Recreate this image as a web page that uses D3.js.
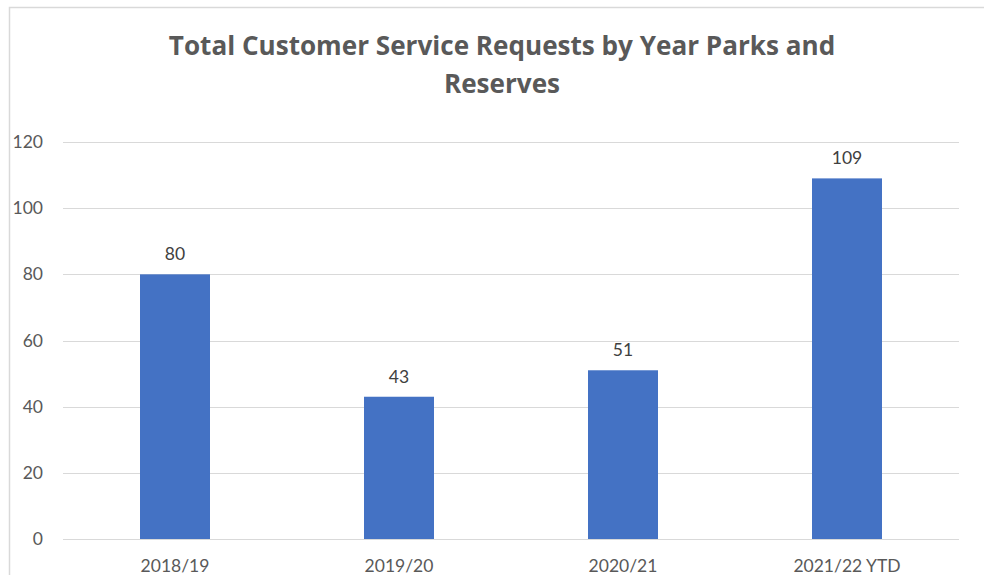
<!DOCTYPE html>
<html>
<head>
<meta charset="utf-8">
<script src="https://cdn.jsdelivr.net/npm/d3@7"></script>
<style>
  html, body { margin: 0; padding: 0; background: #fff; }
  svg { display: block; font-family: Lato, "Open Sans", sans-serif; }
</style>
</head>
<body>
<svg id="chart" width="984" height="575"></svg>
<script>
// Customer service requests for parks and reserves, per financial year
const categories = ["2018/19", "2019/20", "2020/21", "2021/22 YTD"];
const requests = [80, 43, 51, 109];
const yTicks = [0, 20, 40, 60, 80, 100, 120];
const titleLines = ["Total Customer Service Requests by Year Parks and", "Reserves"];

const svg = d3.select("#chart");
const W = 984, H = 575;
const plot = { left: 63, right: 959, top: 142, bottom: 539 };
const labelFont = "Lato, 'Open Sans', sans-serif";

// chart frame (top and left edges visible)
svg.append("path")
  .attr("d", `M9.5,${H} V7.5 H${W}`)
  .attr("fill", "none")
  .attr("stroke", "#d9d9d9")
  .attr("stroke-width", 1.5);

// title
svg.append("g").selectAll("text")
  .data(titleLines)
  .join("text")
  .attr("x", 502)
  .attr("y", (d, i) => 55 + i * 38)
  .attr("text-anchor", "middle")
  .attr("font-family", "'Open Sans', Lato, sans-serif")
  .attr("font-size", 26.1)
  .attr("font-weight", 700)
  .attr("fill", "#595959")
  .text(d => d);

const x = d3.scaleBand()
  .domain(categories)
  .range([plot.left, plot.right])
  .padding(0);

const y = d3.scaleLinear()
  .domain([0, 120])
  .range([plot.bottom, plot.top]);

// gridlines
svg.append("g")
  .selectAll("line")
  .data(yTicks)
  .join("line")
  .attr("x1", plot.left)
  .attr("x2", plot.right)
  .attr("y1", d => Math.round(y(d)) + 0.5)
  .attr("y2", d => Math.round(y(d)) + 0.5)
  .attr("stroke", "#d9d9d9")
  .attr("stroke-width", 1);

// y axis labels
const yAxis = d3.axisLeft(y).tickValues(yTicks).tickSize(0).tickPadding(0);
const gy = svg.append("g")
  .attr("transform", `translate(43,0)`)
  .call(yAxis);
gy.select(".domain").remove();
gy.selectAll("text")
  .attr("font-family", labelFont)
  .attr("font-size", 17.5)
  .attr("fill", "#595959");

// x axis labels
const xAxis = d3.axisBottom(x).tickSize(0).tickPadding(0);
const gx = svg.append("g")
  .attr("transform", `translate(0,${plot.bottom + 21})`)
  .call(xAxis);
gx.select(".domain").remove();
gx.selectAll("text")
  .attr("font-family", labelFont)
  .attr("font-size", 17.5)
  .attr("fill", "#595959");

// bars
const barW = x.bandwidth() * 0.3125;
svg.append("g")
  .selectAll("rect")
  .data(requests)
  .join("rect")
  .attr("x", (d, i) => x(categories[i]) + (x.bandwidth() - barW) / 2)
  .attr("y", d => y(d))
  .attr("width", barW)
  .attr("height", d => y(0) - y(d))
  .attr("fill", "#4472c4");

// value labels
svg.append("g")
  .selectAll("text")
  .data(requests)
  .join("text")
  .attr("x", (d, i) => x(categories[i]) + x.bandwidth() / 2)
  .attr("y", d => y(d) - 14)
  .attr("text-anchor", "middle")
  .attr("font-family", labelFont)
  .attr("font-size", 17.5)
  .attr("fill", "#404040")
  .text(d => d);
</script>
</body>
</html>
